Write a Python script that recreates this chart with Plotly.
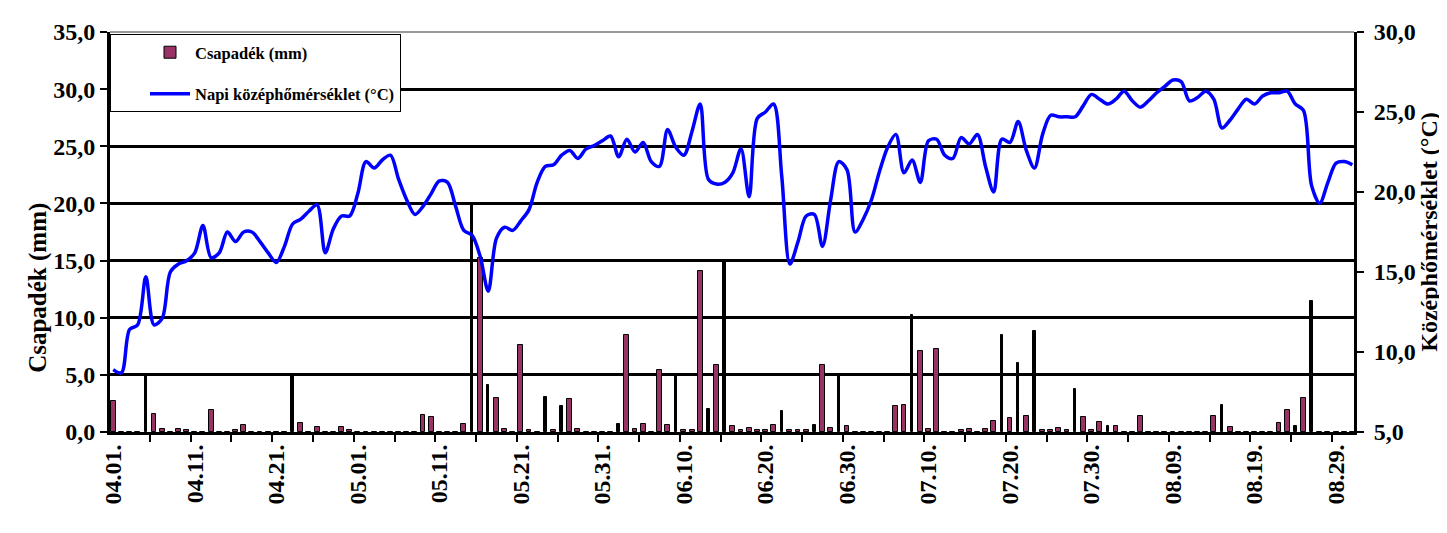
import plotly.graph_objects as go
import pandas as pd

# ---------------- data ----------------
start_date = "2023-04-01"
end_date = "2023-08-31"
dates = pd.date_range(start_date, end_date, freq="D")

tick_labels_every = 10  # days between labelled ticks

# daily mean temperature (°C), 04.01 - 08.31
temperature = [
    8.9, 8.7, 11.4, 11.7, 14.7, 11.7, 12.1, 15.0, 15.5, 15.7,
    16.2, 17.9, 15.9, 16.2, 17.5, 16.9, 17.5, 17.5, 16.9, 16.2,
    15.6, 16.6, 18.0, 18.3, 18.8, 19.2, 16.2, 17.7, 18.5, 18.5,
    19.9, 21.9, 21.5, 22.0, 22.3, 20.8, 19.5, 18.6, 19.1, 19.9,
    20.7, 20.6, 19.1, 17.6, 17.3, 16.0, 13.8, 17.1, 17.8, 17.6,
    18.2, 18.9, 20.6, 21.6, 21.7, 22.3, 22.6, 22.1, 22.7, 22.9,
    23.2, 23.5, 22.2, 23.3, 22.5, 23.1, 21.9, 21.6, 23.9, 22.8,
    22.3, 23.8, 25.5, 20.8, 20.5, 20.6, 21.2, 22.7, 19.7, 24.6,
    25.0, 25.5, 21.0, 15.5, 16.9, 18.5, 18.6, 16.6, 19.5, 21.9,
    21.4, 17.5, 18.3, 19.5, 21.3, 22.8, 23.6, 21.2, 22.0, 20.6,
    23.2, 23.3, 22.3, 22.1, 23.4, 23.0, 23.6, 21.6, 20.0, 23.3,
    23.1, 24.4, 22.6, 21.5, 23.6, 24.8, 24.7, 24.7, 24.7, 25.4,
    26.1, 25.8, 25.5, 25.8, 26.3, 25.7, 25.3, 25.7, 26.2, 26.6,
    27.0, 26.9, 25.7, 25.9, 26.3, 25.8, 24.0, 24.5, 25.2, 25.8,
    25.5, 26.0, 26.2, 26.2, 26.3, 25.5, 25.1, 20.4, 19.3, 20.6,
    21.8, 21.9, 21.7,
]

# daily precipitation (mm), 04.01 - 08.31
precipitation = [
    2.7, 0, 0, 0, 4.9, 1.6, 0.3, 0, 0.25, 0.2,
    0, 0, 1.9, 0, 0, 0.2, 0.6, 0, 0, 0,
    0, 0, 5.0, 0.8, 0, 0.4, 0, 0, 0.4, 0.2,
    0, 0, 0, 0, 0, 0, 0, 0, 1.5, 1.3,
    0, 0, 0, 0.7, 20.0, 15.2, 4.1, 3.0, 0.3, 0,
    7.6, 0.15, 0, 3.1, 0.15, 2.3, 2.9, 0.3, 0, 0,
    0, 0, 0.7, 8.5, 0.3, 0.7, 0, 5.4, 0.6, 4.9,
    0.15, 0.15, 14.1, 2.0, 5.9, 15.0, 0.5, 0.2, 0.35, 0.15,
    0.15, 0.6, 1.8, 0.15, 0.15, 0.15, 0.6, 5.9, 0.35, 4.9,
    0.5, 0, 0, 0, 0, 0, 2.3, 2.4, 10.2, 7.1,
    0.25, 7.3, 0, 0, 0.15, 0.25, 0, 0.3, 1.0, 8.5,
    1.2, 6.0, 1.4, 8.8, 0.15, 0.15, 0.35, 0.2, 3.8, 1.3,
    0.2, 0.9, 0.5, 0.5, 0, 0, 1.4, 0, 0, 0,
    0, 0, 0, 0, 0, 1.4, 2.4, 0.4, 0, 0,
    0, 0, 0, 0.8, 1.9, 0.5, 3.0, 11.5, 0, 0,
    0, 0, 0,
]

# day indices whose bars render as thin solid black strokes in the original
dark_bar_days = [4, 22, 44, 46, 53, 55, 62, 69, 73, 75, 82, 86, 89, 98,
                 109, 111, 113, 118, 122, 136, 145, 147]

precip_name = "Csapadék (mm)"
temp_name = "Napi középhőmérséklet (°C)"
left_title = "Csapadék (mm)"
right_title = "Középhőmérséklet (°C)"

# ---------------- styling ----------------
FONT = "Liberation Serif, Times New Roman, serif"
MAROON = "#993366"
DAY_MS = 86400000

bar_colors = ["black" if i in dark_bar_days else MAROON for i in range(len(dates))]
bar_widths = [0.3 * DAY_MS if i in dark_bar_days else 0.6 * DAY_MS for i in range(len(dates))]

fig = go.Figure()
fig.add_trace(go.Bar(
    x=dates, y=precipitation, name=precip_name,
    marker=dict(color=bar_colors, line=dict(color="black", width=1)),
    width=bar_widths, yaxis="y", legendgroup="a",
))
fig.add_trace(go.Scatter(
    x=dates, y=temperature, name=temp_name, mode="lines",
    line=dict(color="#0000FF", width=3.5, shape="spline", smoothing=0.9),
    yaxis="y2", legendgroup="b",
))

x0 = dates[0] - pd.Timedelta(hours=9.6)
x1 = dates[-1] + pd.Timedelta(hours=4.8)

ytickfont = dict(family=FONT, size=24, color="black", weight="bold")
xtickfont = dict(family=FONT, size=24, color="black", weight="bold")
ltitlefont = dict(family=FONT, size=25, color="black", weight="bold")
rtitlefont = dict(family=FONT, size=24, color="black", weight="bold")

fig.update_layout(
    width=1447, height=533,
    margin=dict(l=102, r=101, t=24, b=109),
    paper_bgcolor="white", plot_bgcolor="white",
    separators=", ",
    bargap=0,
    showlegend=True,
    legend=dict(
        x=0, y=0.995, xanchor="left", yanchor="top",
        bgcolor="white", bordercolor="black", borderwidth=1,
        font=dict(family=FONT, size=16.5, color="black", weight="bold"),
        traceorder="grouped", tracegroupgap=17,
        itemwidth=40, indentation=34,
    ),
    xaxis=dict(
        type="date", range=[x0, x1],
        tick0=start_date, dtick=tick_labels_every * DAY_MS,
        tickformat="%m.%d.", tickangle=-90,
        tickfont=xtickfont,
        ticks="outside", ticklen=0,
        minor=dict(ticks="outside", ticklen=7, tickwidth=2, tickcolor="black",
                   tick0="2023-04-05 12:00", dtick=5 * DAY_MS, showgrid=False),
        showline=True, linecolor="black", linewidth=3,
        showgrid=False, zeroline=False,
    ),
    yaxis=dict(
        range=[0, 35], dtick=5, tick0=0, tickformat=".1f",
        tickfont=ytickfont,
        ticks="outside", ticklen=7, tickwidth=2, tickcolor="black",
        showline=True, linecolor="black", linewidth=3,
        showgrid=True, gridcolor="black", gridwidth=3,
        zeroline=False,
    ),
    yaxis2=dict(
        range=[5, 30], dtick=5, tick0=5, tickformat=".1f",
        overlaying="y", side="right",
        tickfont=ytickfont, ticklabelstandoff=5,
        title=dict(text=right_title, font=rtitlefont, standoff=0),
        ticks="outside", ticklen=7, tickwidth=2, tickcolor="black",
        showline=True, linecolor="black", linewidth=3,
        showgrid=False, zeroline=False,
    ),
    annotations=[
        dict(text=left_title, xref="paper", yref="paper", x=-0.058, y=0.36,
             xanchor="center", yanchor="middle", textangle=-90, showarrow=False,
             font=ltitlefont),
    ],
    shapes=[
        dict(type="line", xref="paper", yref="paper", x0=0.003, x1=0.997, y0=1, y1=1,
             line=dict(color="white", width=4), layer="above"),
        dict(type="line", xref="paper", yref="paper", x0=0, x1=1, y0=1, y1=1,
             line=dict(color="#777777", width=1.5), layer="above"),
        dict(type="line", xref="paper", yref="paper", x0=-0.0836, x1=-0.0836,
             y0=-0.28, y1=1.09, line=dict(color="#555555", width=1.5)),
    ],
)

fig.write_html("out.html")
